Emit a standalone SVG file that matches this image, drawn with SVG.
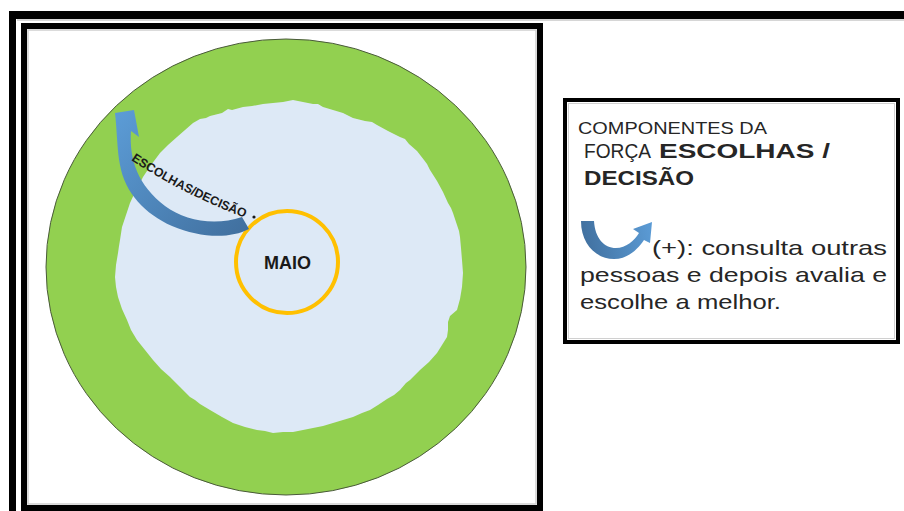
<svg xmlns="http://www.w3.org/2000/svg" width="904" height="511" viewBox="0 0 904 511">
<defs>
<style>
.t{font-family:"Liberation Sans",Arial,sans-serif;fill:#262626}
.b{font-weight:bold}
.lbl{font-family:"Liberation Sans",Arial,sans-serif;font-weight:bold;fill:#1a1a1a}
</style>
<linearGradient id="gBig" gradientUnits="userSpaceOnUse" x1="247" y1="228" x2="122" y2="112">
<stop offset="0" stop-color="#41709f"/>
<stop offset="1" stop-color="#5b9bd5"/>
</linearGradient>
<linearGradient id="gSmall" gradientUnits="userSpaceOnUse" x1="582" y1="240" x2="652" y2="228">
<stop offset="0" stop-color="#41709f"/>
<stop offset="1" stop-color="#5b9bd5"/>
</linearGradient>
<path id="lblPath" d="M131,160 Q185,196 256,222"/>
</defs>
<rect width="904" height="511" fill="#ffffff"/>
<!-- outer frame -->
<g id="outer-frame">
<line x1="9" y1="15" x2="904" y2="15" stroke="#000" stroke-width="8"/>
<line x1="12.5" y1="11" x2="12.5" y2="511" stroke="#000" stroke-width="7"/>
<line x1="17" y1="20" x2="904" y2="20" stroke="#c8c8c8" stroke-width="1.5"/>
</g>
<!-- inner frame -->
<g id="inner-frame">
<rect x="24" y="26" width="516" height="482" fill="none" stroke="#000" stroke-width="6"/>
<rect x="28" y="30" width="508" height="474" fill="none" stroke="#cfcfcf" stroke-width="1.5"/>
</g>
<!-- green circle -->
<g id="green-circle">
<ellipse cx="286" cy="267" rx="240" ry="228" fill="#92d050" stroke="#4a5a3a" stroke-width="1"/>
</g>
<!-- light blue blob -->
<g id="blob">
<path fill="#dde9f6" d="M193,123 L200,119 L206,118 L210,116 L222,113 L228,109 L232,110 L243,107 L252,106 L263,104 L273,103 L283,102 L293,100 L303,102 L313,104 L318,104 L323,107 L333,110 L343,113 L353,118 L365,121 L372,122 L377,125 L388,131 L400,137 L405,139 L409,144 L417,151 L424,160 L427,164 L430,170 L437,181 L443,192 L448,203 L451,208 L453,213 L457,225 L459,231 L460,237 L461,248 L462,260 L463,273 L462,287 L461,293 L460,299 L457,310 L450,316 L448,322 L448,330 L447,337 L442,345 L437,353 L429,362 L420,370 L410,380 L406,383 L400,390 L394,395 L387,399 L378,405 L370,410 L362,413 L353,417 L343,420 L333,423 L323,426 L313,428 L303,430 L293,432 L283,432 L273,433 L265,431 L257,430 L245,427 L239,425 L233,423 L222,417 L210,410 L200,404 L195,400 L190,397 L180,387 L170,377 L161,369 L153,360 L145,350 L137,340 L134,335 L131,330 L127,320 L122,309 L120,303 L118,297 L116,287 L115,277 L116,265 L118,253 L119,246 L120,240 L122,227 L126,215 L130,203 L136,190 L140,183 L143,177 L151,165 L160,153 L168,145 L177,137 L185,130 Z"/>
</g>
<!-- orange circle -->
<g id="maio">
<circle cx="287" cy="262" r="51" fill="none" stroke="#ffc000" stroke-width="4"/>
<text class="lbl" x="287.5" y="268.5" font-size="18" text-anchor="middle">MAIO</text>
</g>
<!-- big curved arrow -->
<g id="connectors">
<path fill="url(#gBig)" d="M115,113 L134,110 L139,137 L131,131 C129,160 138,185 165,206 C185,221 215,226 242,217 L249,229 C230,239 200,238 172,226 C145,214 125,193 120,165 C117,150 117,130 115,113 Z"/>
</g>
<g id="arrow-label">
<text class="lbl" font-size="12.5"><textPath href="#lblPath" textLength="128" lengthAdjust="spacingAndGlyphs">ESCOLHAS/DECISÃO</textPath></text>
<circle cx="254" cy="217" r="1.6" fill="#1a1a1a"/>
</g>
<!-- legend box -->
<g id="legend">
<rect x="565" y="100" width="333" height="242" fill="#fff" stroke="#000" stroke-width="4"/>
<rect x="568.5" y="103.5" width="326" height="235" fill="none" stroke="#d0d0d0" stroke-width="1"/>
<text class="t" x="578" y="134" font-size="17" textLength="189" lengthAdjust="spacingAndGlyphs">COMPONENTES DA</text>
<text class="t" x="584" y="158" font-size="21" textLength="67" lengthAdjust="spacingAndGlyphs">FORÇA</text>
<text class="t b" x="659" y="158" font-size="21" textLength="171" lengthAdjust="spacingAndGlyphs">ESCOLHAS /</text>
<text class="t b" x="584" y="185" font-size="21" textLength="110" lengthAdjust="spacingAndGlyphs">DECISÃO</text>
<path fill="url(#gSmall)" d="M581,221 C581,244 596,259 614,259 C628,259 638,249 644,240 L650,243 L652,222 L633,229 L639,233 C634,241 626,248 616,248 C604,248 595,238 594,221 Z"/>
<text class="t" x="652" y="255" font-size="21" textLength="235" lengthAdjust="spacingAndGlyphs">(+): consulta  outras</text>
<text class="t" x="580" y="282" font-size="21" textLength="307" lengthAdjust="spacingAndGlyphs">pessoas e depois avalia e</text>
<text class="t" x="580" y="309" font-size="21" textLength="201" lengthAdjust="spacingAndGlyphs">escolhe a melhor.</text>
</g>
</svg>
